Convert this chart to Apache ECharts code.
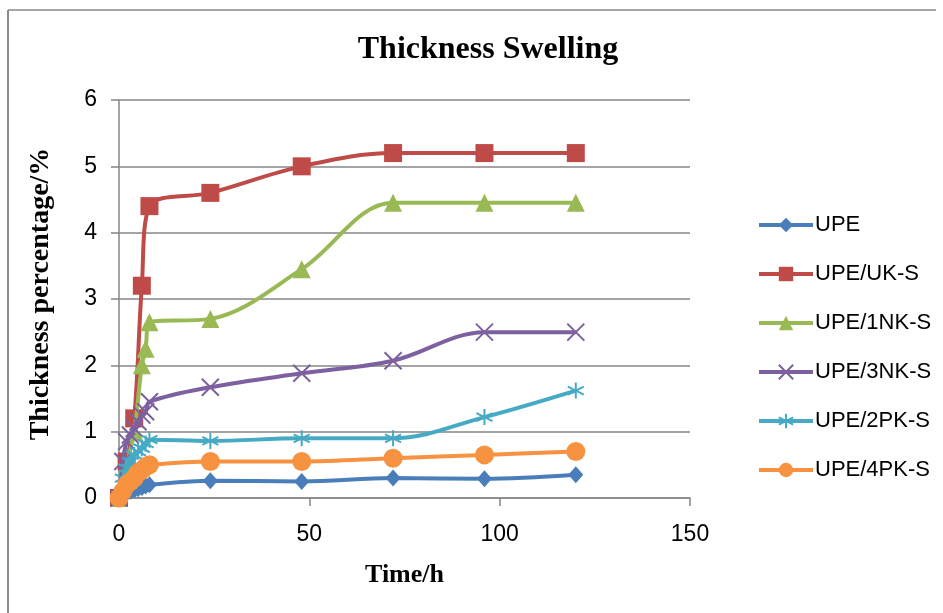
<!DOCTYPE html>
<html>
<head>
<meta charset="utf-8">
<script src="https://cdn.jsdelivr.net/npm/echarts@6/dist/echarts.min.js"></script>
<style>
html,body{margin:0;padding:0;background:#fff;}
#chart{width:943px;height:613px;}
</style>
</head>
<body>
<div id="chart"></div>
<script>
// ---- data ----
const seriesNames = ['UPE', 'UPE/UK-S', 'UPE/1NK-S', 'UPE/3NK-S', 'UPE/2PK-S', 'UPE/4PK-S'];

const timeUPE   = [0, 1, 2, 3, 4, 5, 6, 7, 8, 24, 48, 72, 96, 120];
const valUPE    = [0, 0.05, 0.07, 0.1, 0.12, 0.14, 0.16, 0.18, 0.2, 0.26, 0.25, 0.3, 0.29, 0.35];

const timeUK    = [0, 2, 4, 6, 8, 24, 48, 72, 96, 120];
const valUK     = [0, 0.55, 1.2, 3.2, 4.4, 4.6, 5.0, 5.2, 5.2, 5.2];

const time1NK   = [0, 2, 4, 6, 7, 8, 24, 48, 72, 96, 120];
const val1NK    = [0, 0.5, 1.0, 2.0, 2.25, 2.65, 2.7, 3.45, 4.45, 4.45, 4.45];

const time3NK   = [0, 1, 2, 3, 4, 5, 6, 7, 8, 24, 48, 72, 96, 120];
const val3NK    = [0, 0.55, 0.85, 0.95, 1.05, 1.15, 1.25, 1.3, 1.45, 1.67, 1.88, 2.07, 2.5, 2.5];

const time2PK   = [0, 1, 2, 3, 4, 5, 6, 7, 8, 24, 48, 72, 96, 120];
const val2PK    = [0, 0.3, 0.45, 0.55, 0.65, 0.7, 0.75, 0.82, 0.88, 0.86, 0.9, 0.9, 1.22, 1.62];

const time4PK   = [0, 1, 2, 3, 4, 5, 6, 7, 8, 24, 48, 72, 96, 120];
const val4PK    = [0, 0.1, 0.2, 0.25, 0.3, 0.38, 0.42, 0.47, 0.5, 0.55, 0.55, 0.6, 0.65, 0.7];

const xTicks = [0, 50, 100, 150];
const yTicks = [0, 1, 2, 3, 4, 5, 6];

// ---- build ----
function pairs(t, v) { return t.map((x, i) => [x, v[i]]); }
const allData = [
  pairs(timeUPE, valUPE), pairs(timeUK, valUK), pairs(time1NK, val1NK),
  pairs(time3NK, val3NK), pairs(time2PK, val2PK), pairs(time4PK, val4PK)
];
const colors = ['#4A7EBB', '#BE4B48', '#98B954', '#7D60A0', '#46AAC5', '#F69240'];
const symbols = [
  'diamond', 'rect', 'triangle',
  'path://M0,0L10,10M10,0L0,10',
  'path://M5,0L5,10M0.7,2.5L9.3,7.5M0.7,7.5L9.3,2.5',
  'circle'
];
const symbolSizes = [[15, 17], 18, 18, 17, 16, 19];

const series = allData.map((d, i) => {
  const stroke = i === 3 || i === 4;
  return {
    name: seriesNames[i],
    type: 'line',
    data: d,
    smooth: 0.35,
    symbol: symbols[i],
    symbolSize: symbolSizes[i],
    showAllSymbol: true,
    lineStyle: { color: colors[i], width: 4 },
    itemStyle: stroke
      ? { color: colors[i], borderColor: colors[i], borderWidth: 2 }
      : { color: colors[i], borderColor: colors[i], borderWidth: 0 },
    emphasis: { disabled: true },
    z: 2 + i
  };
});

const chart = echarts.init(document.getElementById('chart'), null, { renderer: 'canvas' });
chart.setOption({
  animation: false,
  backgroundColor: '#ffffff',
  color: colors,
  title: {
    text: 'Thickness Swelling',
    left: 483, top: 29, textAlign: 'center',
    textStyle: { fontFamily: 'Liberation Serif', fontWeight: 'bold', fontSize: 32, color: '#000' }
  },
  graphic: [
    { type: 'line', shape: { x1: 8, y1: 10, x2: 936, y2: 10 }, style: { stroke: '#8a8a8a', lineWidth: 1.5 }, silent: true },
    { type: 'line', shape: { x1: 8, y1: 10, x2: 8, y2: 613 }, style: { stroke: '#8a8a8a', lineWidth: 2 }, silent: true }
  ],
  legend: {
    orient: 'vertical',
    left: 752, top: 209,
    itemWidth: 54, itemHeight: 18, itemGap: 27,
    data: seriesNames,
    lineStyle: { width: 4 },
    textStyle: { fontFamily: 'Liberation Sans', fontSize: 22, color: '#000', lineHeight: 22, padding: [0, 0, 0, -3] }
  },
  grid: { left: 119, right: 253, top: 100, bottom: 115, containLabel: false },
  xAxis: {
    type: 'value', min: xTicks[0], max: xTicks[xTicks.length - 1], interval: 50,
    name: 'Time/h', nameLocation: 'middle', nameGap: 64,
    nameTextStyle: { fontFamily: 'Liberation Serif', fontWeight: 'bold', fontSize: 26, color: '#000' },
    axisLine: { lineStyle: { color: '#868686', width: 1.5 } },
    axisTick: { show: true, inside: false, length: 8, lineStyle: { color: '#868686', width: 1.5 } },
    axisLabel: { fontFamily: 'Liberation Sans', fontSize: 23, color: '#000', margin: 25 },
    splitLine: { show: false }
  },
  yAxis: {
    type: 'value', min: yTicks[0], max: yTicks[yTicks.length - 1], interval: 1,
    name: 'Thickness percentage/%', nameLocation: 'middle', nameGap: 64,
    nameTextStyle: { fontFamily: 'Liberation Serif', fontWeight: 'bold', fontSize: 28, color: '#000', padding: [0, 0, 0, 10] },
    axisLine: { show: true, lineStyle: { color: '#868686', width: 1.5 } },
    axisTick: { show: true, inside: false, length: 8, lineStyle: { color: '#868686', width: 1.5 } },
    axisLabel: { fontFamily: 'Liberation Sans', fontSize: 23, color: '#000', margin: 22 },
    splitLine: { show: true, lineStyle: { color: '#868686', width: 1.5 } }
  },
  series: series
});
</script>
</body>
</html>
